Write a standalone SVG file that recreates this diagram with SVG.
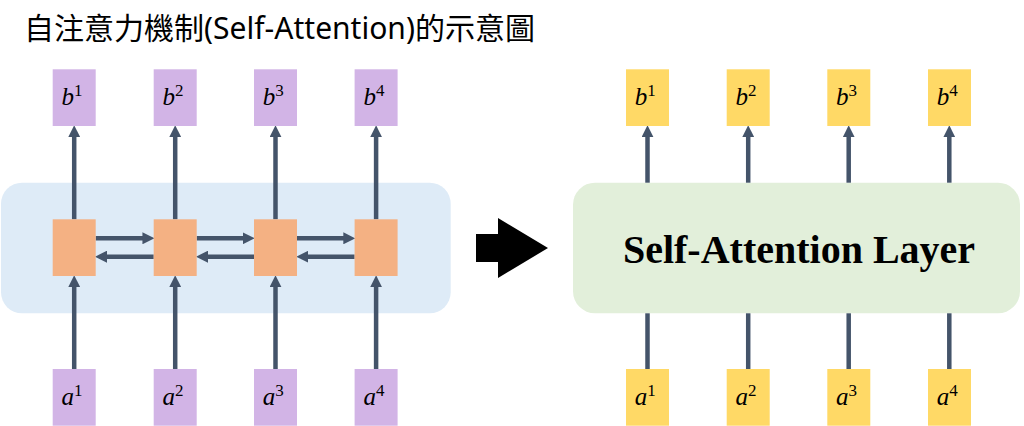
<svg xmlns="http://www.w3.org/2000/svg" width="1024" height="426" viewBox="0 0 1024 426">
<style>
.title{font-family:"Noto Sans","Noto Sans CJK TC",sans-serif;font-size:30px;fill:#000}
.vec{fill:#D2B4E6}
.yel{fill:#FFD966}
.rnn{fill:#F4B183}
.lbl{font-family:"Liberation Serif","DejaVu Serif",serif;font-size:25px;fill:#000}
.lbl .v{font-style:italic}
.lbl .s{font-size:17px}
.conn{stroke:#44546A;stroke-width:4.5;fill:none}
.big{font-family:"Liberation Serif","Times New Roman",serif;font-weight:bold;font-size:40px;fill:#000}
</style>
<defs>
<marker id="ah" markerUnits="userSpaceOnUse" markerWidth="12" markerHeight="12" viewBox="0 0 11 11" refX="3" refY="5.5" orient="auto">
<path d="M0,0 L11,5.5 L0,11 z" fill="#44546A"/>
</marker>
</defs>

<text class="title" x="24" y="39" textLength="511" lengthAdjust="spacingAndGlyphs">自注意力機制(Self-Attention)的示意圖</text>

<g id="rnn-panel"><rect x="1" y="182.7" width="449.7" height="130.6" rx="21" fill="#DEEBF7"/></g>
<g id="sa-layer">
<rect x="573" y="182.7" width="447" height="130.6" rx="22" fill="#E2EFDA"/>
<text class="big" x="799" y="262.7" text-anchor="middle">Self-Attention Layer</text>
</g>

<g id="big-arrow"><polygon points="476,234 498,234 498,218 548,248 498,278 498,262 476,262" fill="#000"/></g>

<g id="connectors">
<line class="conn" x1="74.2" y1="219.3" x2="74.2" y2="134" marker-end="url(#ah)"/>
<line class="conn" x1="175.2" y1="219.3" x2="175.2" y2="134" marker-end="url(#ah)"/>
<line class="conn" x1="275.5" y1="219.3" x2="275.5" y2="134" marker-end="url(#ah)"/>
<line class="conn" x1="376.1" y1="219.3" x2="376.1" y2="134" marker-end="url(#ah)"/>
<line class="conn" x1="74.2" y1="369" x2="74.2" y2="284" marker-end="url(#ah)"/>
<line class="conn" x1="175.2" y1="369" x2="175.2" y2="284" marker-end="url(#ah)"/>
<line class="conn" x1="275.5" y1="369" x2="275.5" y2="284" marker-end="url(#ah)"/>
<line class="conn" x1="376.1" y1="369" x2="376.1" y2="284" marker-end="url(#ah)"/>
<line class="conn" x1="95.7" y1="238.3" x2="145.7" y2="238.3" marker-end="url(#ah)"/>
<line class="conn" x1="196.7" y1="238.3" x2="246" y2="238.3" marker-end="url(#ah)"/>
<line class="conn" x1="297" y1="238.3" x2="346.6" y2="238.3" marker-end="url(#ah)"/>
<line class="conn" x1="153.7" y1="256.7" x2="103.7" y2="256.7" marker-end="url(#ah)"/>
<line class="conn" x1="254" y1="256.7" x2="204.7" y2="256.7" marker-end="url(#ah)"/>
<line class="conn" x1="354.6" y1="256.7" x2="305" y2="256.7" marker-end="url(#ah)"/>
<line class="conn" x1="647.5" y1="182.7" x2="647.5" y2="134" marker-end="url(#ah)"/>
<line class="conn" x1="748.2" y1="182.7" x2="748.2" y2="134" marker-end="url(#ah)"/>
<line class="conn" x1="848.7" y1="182.7" x2="848.7" y2="134" marker-end="url(#ah)"/>
<line class="conn" x1="949.3" y1="182.7" x2="949.3" y2="134" marker-end="url(#ah)"/>
<line class="conn" x1="647.5" y1="369" x2="647.5" y2="313.3"/>
<line class="conn" x1="748.2" y1="369" x2="748.2" y2="313.3"/>
<line class="conn" x1="848.7" y1="369" x2="848.7" y2="313.3"/>
<line class="conn" x1="949.3" y1="369" x2="949.3" y2="313.3"/>
</g>

<g id="rnn1"><rect class="rnn" x="52.7" y="219.3" width="43" height="56.7"/></g>
<g id="rnn2"><rect class="rnn" x="153.7" y="219.3" width="43" height="56.7"/></g>
<g id="rnn3"><rect class="rnn" x="254" y="219.3" width="43" height="56.7"/></g>
<g id="rnn4"><rect class="rnn" x="354.6" y="219.3" width="43" height="56.7"/></g>

<g id="lb1"><rect class="vec" x="52.7" y="69.3" width="43" height="56.7"/><text class="lbl" x="72" y="105" text-anchor="middle"><tspan class="v">b</tspan><tspan class="s" dy="-9">1</tspan></text></g>
<g id="lb2"><rect class="vec" x="153.7" y="69.3" width="43" height="56.7"/><text class="lbl" x="173" y="105" text-anchor="middle"><tspan class="v">b</tspan><tspan class="s" dy="-9">2</tspan></text></g>
<g id="lb3"><rect class="vec" x="254" y="69.3" width="43" height="56.7"/><text class="lbl" x="273.3" y="105" text-anchor="middle"><tspan class="v">b</tspan><tspan class="s" dy="-9">3</tspan></text></g>
<g id="lb4"><rect class="vec" x="354.6" y="69.3" width="43" height="56.7"/><text class="lbl" x="373.9" y="105" text-anchor="middle"><tspan class="v">b</tspan><tspan class="s" dy="-9">4</tspan></text></g>

<g id="la1"><rect class="vec" x="52.7" y="369" width="43" height="56.7"/><text class="lbl" x="72" y="405" text-anchor="middle"><tspan class="v">a</tspan><tspan class="s" dy="-9">1</tspan></text></g>
<g id="la2"><rect class="vec" x="153.7" y="369" width="43" height="56.7"/><text class="lbl" x="173" y="405" text-anchor="middle"><tspan class="v">a</tspan><tspan class="s" dy="-9">2</tspan></text></g>
<g id="la3"><rect class="vec" x="254" y="369" width="43" height="56.7"/><text class="lbl" x="273.3" y="405" text-anchor="middle"><tspan class="v">a</tspan><tspan class="s" dy="-9">3</tspan></text></g>
<g id="la4"><rect class="vec" x="354.6" y="369" width="43" height="56.7"/><text class="lbl" x="373.9" y="405" text-anchor="middle"><tspan class="v">a</tspan><tspan class="s" dy="-9">4</tspan></text></g>

<g id="rb1"><rect class="yel" x="626" y="69.3" width="43" height="56.7"/><text class="lbl" x="645.3" y="105" text-anchor="middle"><tspan class="v">b</tspan><tspan class="s" dy="-9">1</tspan></text></g>
<g id="rb2"><rect class="yel" x="726.7" y="69.3" width="43" height="56.7"/><text class="lbl" x="746" y="105" text-anchor="middle"><tspan class="v">b</tspan><tspan class="s" dy="-9">2</tspan></text></g>
<g id="rb3"><rect class="yel" x="827.3" y="69.3" width="43" height="56.7"/><text class="lbl" x="846.6" y="105" text-anchor="middle"><tspan class="v">b</tspan><tspan class="s" dy="-9">3</tspan></text></g>
<g id="rb4"><rect class="yel" x="928" y="69.3" width="43" height="56.7"/><text class="lbl" x="947.3" y="105" text-anchor="middle"><tspan class="v">b</tspan><tspan class="s" dy="-9">4</tspan></text></g>

<g id="ra1"><rect class="yel" x="626" y="369" width="43" height="56.7"/><text class="lbl" x="645.3" y="405" text-anchor="middle"><tspan class="v">a</tspan><tspan class="s" dy="-9">1</tspan></text></g>
<g id="ra2"><rect class="yel" x="726.7" y="369" width="43" height="56.7"/><text class="lbl" x="746" y="405" text-anchor="middle"><tspan class="v">a</tspan><tspan class="s" dy="-9">2</tspan></text></g>
<g id="ra3"><rect class="yel" x="827.3" y="369" width="43" height="56.7"/><text class="lbl" x="846.6" y="405" text-anchor="middle"><tspan class="v">a</tspan><tspan class="s" dy="-9">3</tspan></text></g>
<g id="ra4"><rect class="yel" x="928" y="369" width="43" height="56.7"/><text class="lbl" x="947.3" y="405" text-anchor="middle"><tspan class="v">a</tspan><tspan class="s" dy="-9">4</tspan></text></g>
</svg>
